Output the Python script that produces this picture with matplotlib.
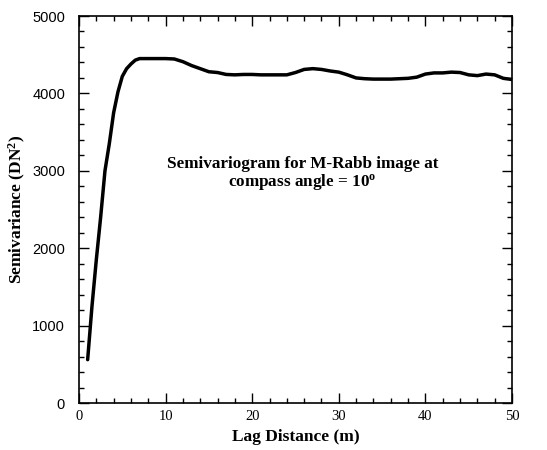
import matplotlib
matplotlib.use('Agg')
import matplotlib.pyplot as plt
from matplotlib.ticker import MultipleLocator

# semivariogram values
lag = [1, 1.5, 2, 2.5, 3, 3.5, 4, 4.5, 5, 5.5, 6, 6.5, 7, 8, 9, 10, 11, 12, 13, 14,
       15, 16, 17, 18, 19, 20, 21, 22, 23, 24, 25, 26, 27, 28, 29, 30, 31, 32, 33,
       34, 35, 36, 37, 38, 39, 40, 41, 42, 43, 44, 45, 46, 47, 48, 49, 50]
semivar = [560, 1250, 1850, 2400, 3000, 3350, 3750, 4020, 4220, 4320, 4380, 4430,
           4450, 4450, 4450, 4450, 4445, 4410, 4360, 4320, 4280, 4270, 4245, 4240,
           4245, 4245, 4240, 4240, 4240, 4240, 4270, 4310, 4320, 4310, 4290, 4275,
           4240, 4200, 4190, 4185, 4185, 4185, 4190, 4195, 4210, 4250, 4265, 4265,
           4275, 4270, 4240, 4230, 4250, 4240, 4195, 4180]

xticks = [0, 10, 20, 30, 40, 50]
yticks = [0, 1000, 2000, 3000, 4000, 5000]

serif = ['Liberation Serif', 'DejaVu Serif']
plt.rcParams['mathtext.fontset'] = 'custom'
plt.rcParams['mathtext.rm'] = 'Liberation Serif:bold'
plt.rcParams['mathtext.bf'] = 'Liberation Serif:bold'
plt.rcParams['mathtext.it'] = 'Liberation Serif:bold'

fig = plt.figure(figsize=(5.47, 4.5), dpi=100)
ax = fig.add_axes([0.1444, 0.1044, 0.7916, 0.86])
ax.plot(lag, semivar, color='black', lw=2.5, solid_capstyle='round', solid_joinstyle='round')

ax.set_xlim(0, 50)
ax.set_ylim(0, 5000)
ax.set_xticks(xticks)
ax.set_yticks(yticks)
ax.xaxis.set_minor_locator(MultipleLocator(2))
ax.yaxis.set_minor_locator(MultipleLocator(200))
ax.tick_params(which='both', direction='in', top=True, right=True, width=1.0)
ax.tick_params(which='major', length=7)
ax.tick_params(which='minor', length=3.5)
ax.tick_params(axis='x', pad=5)
ax.tick_params(axis='y', pad=10)
for lbl in ax.get_xticklabels():
    lbl.set_family(serif)
    lbl.set_fontsize(10.5)
for lbl in ax.get_yticklabels():
    lbl.set_family(['Liberation Sans', 'DejaVu Sans'])
    lbl.set_fontsize(10.5)
for s in ax.spines.values():
    s.set_linewidth(1.2)

ax.set_xlabel('Lag Distance (m)', family=serif, fontweight='bold', fontsize=12.5, labelpad=4)
ax.set_ylabel('Semivariance (DN$^2$)', family=serif, fontweight='bold', fontsize=12.5, labelpad=3)

ax.text(25.8, 2960, 'Semivariogram for M-Rabb image at\ncompass angle = 10$^o$',
        family=serif, fontweight='bold', fontsize=12.3, ha='center', va='center',
        linespacing=1.05)

fig.savefig('out.png', dpi=100)
